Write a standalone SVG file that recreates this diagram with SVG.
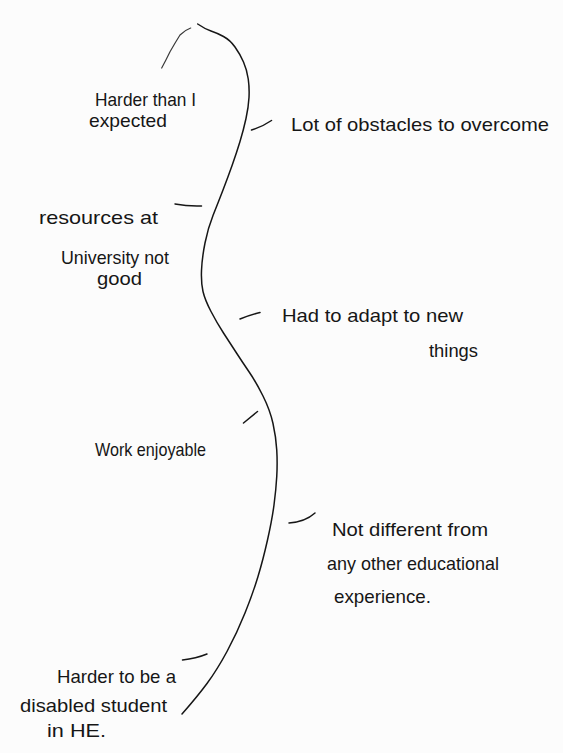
<svg xmlns="http://www.w3.org/2000/svg" width="563" height="753" viewBox="0 0 563 753">
<style>
.ink{fill:none;stroke:#161616;stroke-width:1.5;stroke-linecap:round;stroke-linejoin:round}
.faint{stroke:#3a3a3a;stroke-width:1.2}
.t{font-family:"Liberation Sans","DejaVu Sans",sans-serif;font-size:19px;fill:#161616;font-weight:normal}
</style>
<rect width="563" height="753" fill="#fcfcfc"/>
<g id="connectors">
<path class="ink faint" d="M161.7,68 Q166,60 170,51.7 Q175,43 180,35 Q185,30 190.7,28"/>
<path class="ink" d="M197.7,24 Q205,29 211,31 Q217,33 223.5,36.5 Q230,40 235,47 Q240,54 243.5,62 Q247,70 248.25,79 Q249.5,88 249,97.5 Q248.5,107 246,118.5 Q243.5,130 240,141.5 Q236.5,153 232.25,165 Q228,177 223,190 Q218,203 213,215.5 Q208,228 205,243 Q202,258 201.5,270.5 Q201,283 203,291.5 Q205,300 211,311.5 Q217,323 223.5,333 Q230,343 236.5,353 Q243,363 249.5,372.5 Q256,382 263,396 Q270,410 273,423.5 Q276,437 276.75,450 Q277.5,463 276.75,476.5 Q276,490 274,505 Q272,520 267.5,540 Q263,560 258,576.5 Q253,593 245,613 Q237,633 227,651.5 Q217,670 207,683.5 Q197,697 182,714"/>
<path class="ink" d="M251.5,130 Q262,127 271.5,120.5"/>
<path class="ink" d="M175,204 Q188,206.5 201.5,206"/>
<path class="ink" d="M240,319 Q250,315 260,312.5"/>
<path class="ink" d="M243.5,423 L257.5,411.5"/>
<path class="ink" d="M289,523 Q305,522 315,513"/>
<path class="ink" d="M182.5,660 Q196,658.5 207,654"/>
</g>
<g id="harder-than-expected">
<text class="t" x="95" y="106" textLength="101" lengthAdjust="spacingAndGlyphs">Harder than I</text>
<text class="t" x="89" y="127" textLength="78" lengthAdjust="spacingAndGlyphs">expected</text>
</g>
<g id="lot-of-obstacles">
<text class="t" x="291" y="131" textLength="258" lengthAdjust="spacingAndGlyphs">Lot of obstacles to overcome</text>
</g>
<g id="resources">
<text class="t" x="39" y="224" textLength="119" lengthAdjust="spacingAndGlyphs">resources at</text>
<text class="t" x="61" y="264" textLength="108" lengthAdjust="spacingAndGlyphs">University not</text>
<text class="t" x="97" y="285" textLength="45" lengthAdjust="spacingAndGlyphs">good</text>
</g>
<g id="adapt">
<text class="t" x="282" y="322" textLength="181" lengthAdjust="spacingAndGlyphs">Had to adapt to new</text>
<text class="t" x="429" y="357" textLength="49" lengthAdjust="spacingAndGlyphs">things</text>
</g>
<g id="work-enjoyable">
<text class="t" x="95" y="456" textLength="111" lengthAdjust="spacingAndGlyphs">Work enjoyable</text>
</g>
<g id="not-different">
<text class="t" x="332" y="536" textLength="156" lengthAdjust="spacingAndGlyphs">Not different from</text>
<text class="t" x="327" y="570" textLength="172" lengthAdjust="spacingAndGlyphs">any other educational</text>
<text class="t" x="334" y="603" textLength="97" lengthAdjust="spacingAndGlyphs">experience.</text>
</g>
<g id="harder-disabled">
<text class="t" x="57" y="683" textLength="119" lengthAdjust="spacingAndGlyphs">Harder to be a</text>
<text class="t" x="20" y="712" textLength="147" lengthAdjust="spacingAndGlyphs">disabled student</text>
<text class="t" x="47" y="737" textLength="59" lengthAdjust="spacingAndGlyphs">in HE.</text>
</g>
</svg>
